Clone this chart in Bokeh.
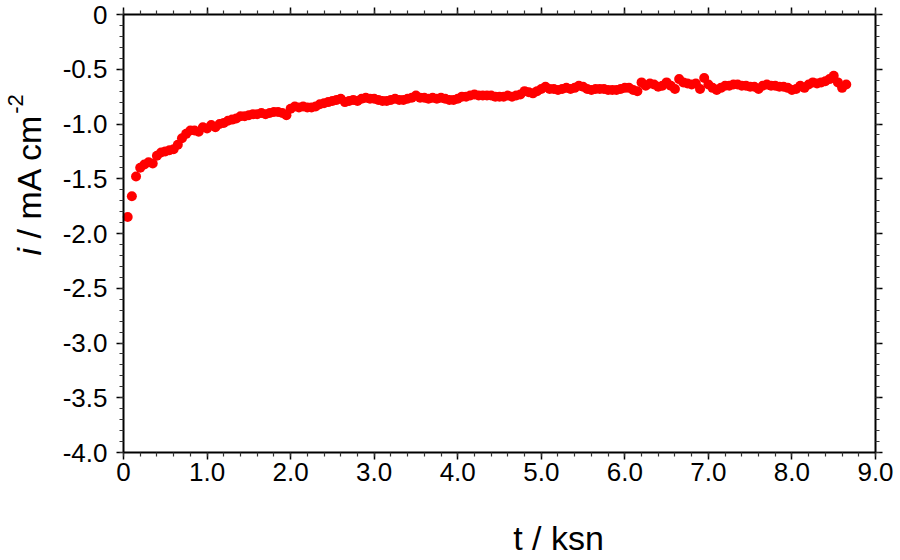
from math import pi

from bokeh.embed import file_html
from bokeh.models import (ColumnDataSource, CustomJSTickFormatter, Label,
                          LinearAxis, Range1d, SingleIntervalTicker)
from bokeh.plotting import figure
from bokeh.resources import INLINE

# Current density transient: time (ksn) and current density (mA cm^-2)
t_ksn = [
    0.05, 0.10, 0.15, 0.20, 0.25, 0.30, 0.35, 0.40, 0.45, 0.50,
    0.55, 0.60, 0.65, 0.70, 0.75, 0.80, 0.85, 0.90, 0.95, 1.00,
    1.05, 1.10, 1.15, 1.20, 1.25, 1.30, 1.35, 1.40, 1.45, 1.50,
    1.55, 1.60, 1.65, 1.70, 1.75, 1.80, 1.85, 1.90, 1.95, 2.00,
    2.05, 2.10, 2.15, 2.20, 2.25, 2.30, 2.35, 2.40, 2.45, 2.50,
    2.55, 2.60, 2.65, 2.70, 2.75, 2.80, 2.85, 2.90, 2.95, 3.00,
    3.05, 3.10, 3.15, 3.20, 3.25, 3.30, 3.35, 3.40, 3.45, 3.50,
    3.55, 3.60, 3.65, 3.70, 3.75, 3.80, 3.85, 3.90, 3.95, 4.00,
    4.05, 4.10, 4.15, 4.20, 4.25, 4.30, 4.35, 4.40, 4.45, 4.50,
    4.55, 4.60, 4.65, 4.70, 4.75, 4.80, 4.85, 4.90, 4.95, 5.00,
    5.05, 5.10, 5.15, 5.20, 5.25, 5.30, 5.35, 5.40, 5.45, 5.50,
    5.55, 5.60, 5.65, 5.70, 5.75, 5.80, 5.85, 5.90, 5.95, 6.00,
    6.05, 6.10, 6.15, 6.20, 6.25, 6.30, 6.35, 6.40, 6.45, 6.50,
    6.55, 6.60, 6.65, 6.70, 6.75, 6.80, 6.85, 6.90, 6.95, 7.00,
    7.05, 7.10, 7.15, 7.20, 7.25, 7.30, 7.35, 7.40, 7.45, 7.50,
    7.55, 7.60, 7.65, 7.70, 7.75, 7.80, 7.85, 7.90, 7.95, 8.00,
    8.05, 8.10, 8.15, 8.20, 8.25, 8.30, 8.35, 8.40, 8.45, 8.50,
    8.55, 8.60, 8.65,
]
i_ma_cm2 = [
    -1.85, -1.66, -1.48, -1.40, -1.37, -1.35, -1.36, -1.29, -1.26, -1.25,
    -1.24, -1.23, -1.19, -1.13, -1.09, -1.06, -1.06, -1.07, -1.03, -1.04,
    -1.01, -1.03, -1.00, -0.99, -0.97, -0.96, -0.95, -0.93, -0.93, -0.92,
    -0.91, -0.91, -0.90, -0.91, -0.90, -0.89, -0.89, -0.90, -0.92, -0.86,
    -0.84, -0.85, -0.84, -0.85, -0.85, -0.84, -0.82, -0.81, -0.80, -0.79,
    -0.78, -0.77, -0.80, -0.79, -0.78, -0.79, -0.77, -0.76, -0.77, -0.77,
    -0.78, -0.79, -0.79, -0.78, -0.77, -0.78, -0.78, -0.77, -0.76, -0.74,
    -0.76, -0.76, -0.77, -0.76, -0.77, -0.76, -0.77, -0.78, -0.78, -0.77,
    -0.75, -0.75, -0.74, -0.73, -0.74, -0.74, -0.74, -0.74, -0.75, -0.75,
    -0.75, -0.74, -0.75, -0.74, -0.73, -0.70, -0.71, -0.72, -0.70, -0.68,
    -0.66, -0.68, -0.68, -0.69, -0.68, -0.67, -0.68, -0.67, -0.65, -0.66,
    -0.68, -0.69, -0.68, -0.68, -0.68, -0.69, -0.69, -0.69, -0.68, -0.67,
    -0.67, -0.69, -0.70, -0.62, -0.65, -0.63, -0.64, -0.66, -0.65, -0.62,
    -0.65, -0.68, -0.59, -0.62, -0.63, -0.64, -0.63, -0.68, -0.58, -0.64,
    -0.67, -0.69, -0.67, -0.65, -0.65, -0.64, -0.64, -0.65, -0.65, -0.66,
    -0.66, -0.68, -0.65, -0.64, -0.65, -0.65, -0.66, -0.66, -0.67, -0.69,
    -0.68, -0.65, -0.67, -0.64, -0.62, -0.63, -0.62, -0.61, -0.59, -0.56,
    -0.62, -0.67, -0.64,
]

X_MIN, X_MAX = 0, 9
Y_MIN, Y_MAX = -4, 0

FONT = "Liberation Sans"
TICK_SIZE = "26px"
LABEL_SIZE = "34px"
LABEL_PX = 34

# page geometry: the axes box sits inside a canvas-wide frame so that the
# axis titles can be drawn as free labels
W, H = 900, 560
LEFT, RIGHT, TOP, BOTTOM = 123, 875, 14, 452
PX_X = (RIGHT - LEFT) / (X_MAX - X_MIN)
PX_Y = (BOTTOM - TOP) / (Y_MAX - Y_MIN)


def page_to_data(px, py):
    """Convert a page pixel position into data coordinates."""
    return X_MIN + (px - LEFT) / PX_X, Y_MAX - (py - TOP) / PX_Y


source = ColumnDataSource(data=dict(t=t_ksn, i=i_ma_cm2))

p = figure(
    width=W, height=H,
    x_range=Range1d(X_MIN - LEFT / PX_X, X_MAX + (W - RIGHT) / PX_X),
    y_range=Range1d(Y_MIN - (H - BOTTOM) / PX_Y, Y_MAX + TOP / PX_Y),
    output_backend="svg", toolbar_location=None,
    x_axis_location=None, y_axis_location=None,
    min_border=0,
)
p.outline_line_color = None
p.grid.visible = False
p.background_fill_color = "white"
p.border_fill_color = "white"

fmt = CustomJSTickFormatter(code="return tick == 0 ? '0' : tick.toFixed(1);")


def make_axis(interval, bounds, where, show_labels):
    ax = LinearAxis(ticker=SingleIntervalTicker(interval=interval,
                                                num_minor_ticks=5),
                    bounds=bounds, fixed_location=where, formatter=fmt)
    ax.axis_line_color = "black"
    ax.axis_line_width = 2
    ax.major_tick_line_color = "black"
    ax.major_tick_line_width = 1.5
    ax.minor_tick_line_color = "#333333"
    ax.minor_tick_line_width = 1.2
    ax.major_tick_in = 0
    ax.major_tick_out = 7
    ax.minor_tick_in = 0
    ax.minor_tick_out = 4
    if show_labels:
        ax.major_label_text_font = FONT
        ax.major_label_text_font_size = TICK_SIZE
        ax.major_label_text_color = "black"
    else:
        ax.major_label_text_color = None
        ax.major_label_text_font_size = "0px"
        ax.major_label_standoff = 0
    return ax


x_bottom = make_axis(1, (X_MIN, X_MAX), Y_MIN, True)
x_bottom.major_label_standoff = 3
p.add_layout(x_bottom, "below")
p.add_layout(make_axis(1, (X_MIN, X_MAX), Y_MAX, False), "above")

y_left = make_axis(0.5, (Y_MIN, Y_MAX), X_MIN, True)
y_left.major_label_standoff = 9
p.add_layout(y_left, "left")
p.add_layout(make_axis(0.5, (Y_MIN, Y_MAX), X_MAX, False), "right")

p.scatter("t", "i", source=source, size=10, fill_color="#ff0000",
          line_color="#ff0000", line_width=0)

# x axis title
tx, ty = page_to_data(558, 537)
p.add_layout(Label(x=tx, y=ty, text="t / ksn", text_font=FONT,
                   text_font_size=LABEL_SIZE, text_align="center",
                   text_baseline="middle", text_color="black"))

# y axis title, read bottom to top: italic i, plain units, superscript -2
# (advance widths in em of Liberation Sans)
base_x, start_y = 28, 255
units_y = start_y - (0.222 + 0.278) * LABEL_PX
sup_y = units_y - 3.667 * LABEL_PX
pieces = [
    ("i", start_y, base_x, LABEL_SIZE, "italic"),
    ("/ mA cm", units_y, base_x, LABEL_SIZE, "normal"),
    ("-2", sup_y, base_x - 13, "22px", "normal"),
]
for text, py, px, size, style in pieces:
    lx, ly = page_to_data(px, py)
    p.add_layout(Label(x=lx, y=ly, angle=pi / 2, text=text, text_font=FONT,
                       text_font_style=style, text_font_size=size,
                       text_align="left", text_baseline="alphabetic",
                       text_color="black"))

open("out.html", "w").write(file_html(p, INLINE))
